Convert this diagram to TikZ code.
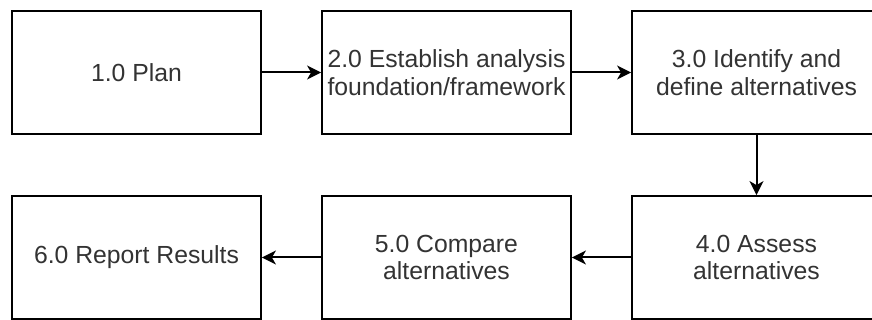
\documentclass[tikz,border=0pt]{standalone}
\usepackage{fontspec}
\setmainfont{Liberation Sans}
\usetikzlibrary{arrows.meta}
\definecolor{txt}{HTML}{333333}
\begin{document}
\begin{tikzpicture}[x=1pt,y=-1pt,
  box/.style={draw=black, line width=1.8pt, fill=white,
    minimum width=249pt, minimum height=123pt, inner sep=0pt,
    align=center, text=txt, font=\fontsize{24.75}{27.5}\selectfont},
  flow/.style={line width=2pt, draw=black,
    -{Stealth[length=14pt,width=14pt,inset=4pt]}}]
\useasboundingbox (0,0) rectangle (872,320);

% process steps
\node[box] (p1) at (136.5,72.5)  {1.0 Plan};
\node[box] (p2) at (446.5,72.5)  {2.0 Establish analysis\\foundation/framework};
\node[box] (p3) at (756.5,72.5)  {3.0 Identify and\\define alternatives};
\node[box] (p4) at (756.5,257.5) {4.0 Assess\\alternatives};
\node[box] (p5) at (446.5,257.5) {5.0 Compare\\alternatives};
\node[box] (p6) at (136.5,257.5) {6.0 Report Results};

% flow between steps
\draw[flow] (p1.east) -- (p2.west);
\draw[flow] (p2.east) -- (p3.west);
\draw[flow] (p3.south) -- (p4.north);
\draw[flow] (p4.west) -- (p5.east);
\draw[flow] (p5.west) -- (p6.east);
\end{tikzpicture}
\end{document}
